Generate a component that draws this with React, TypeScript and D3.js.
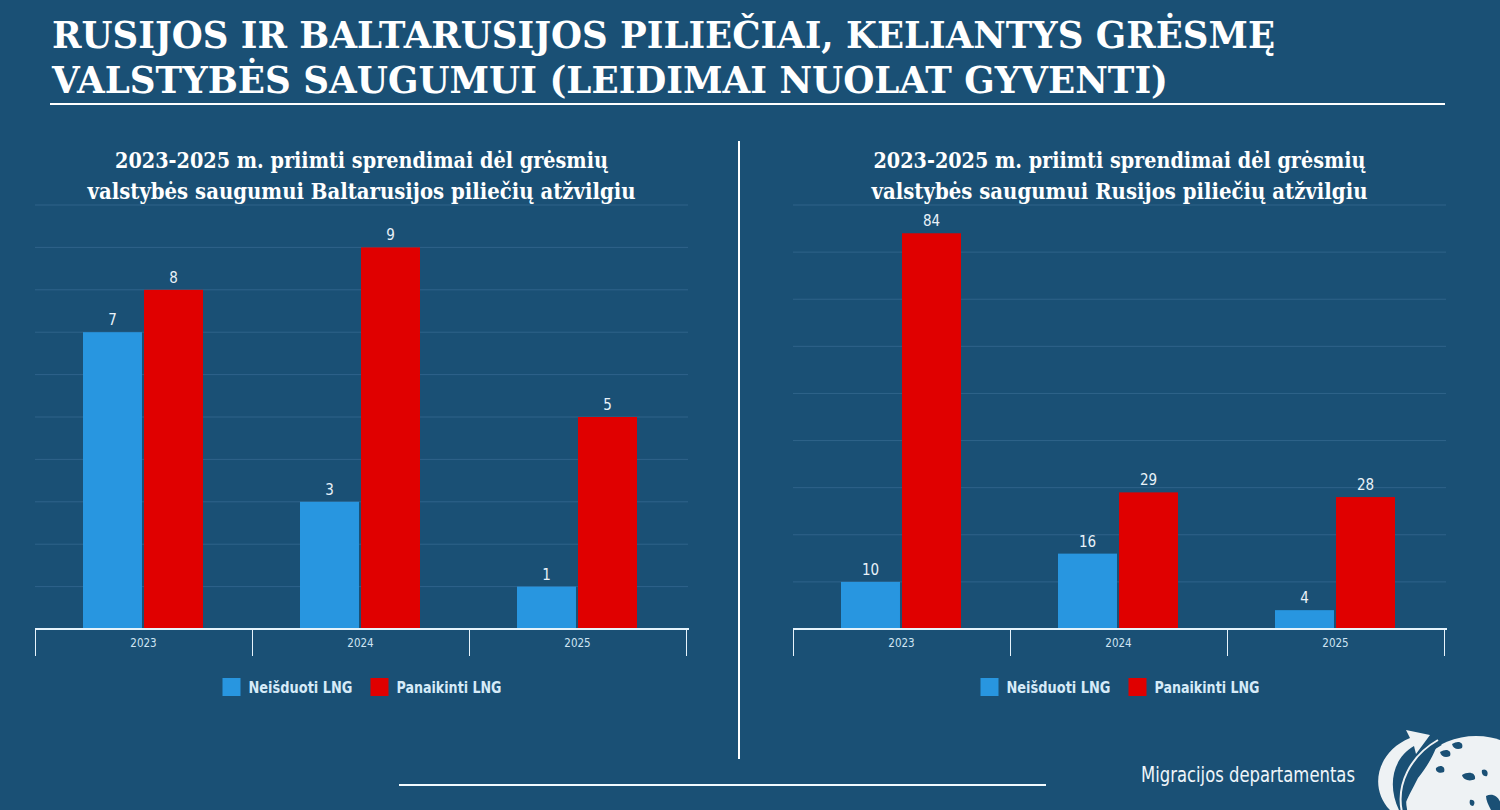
import React from "react";
import * as d3 from "d3";

// Data
const years = ["2023", "2024", "2025"];
const seriesNames = ["Neišduoti LNG", "Panaikinti LNG"];
const belarusNotIssued = [7, 3, 1];
const belarusRevoked = [8, 9, 5];
const russiaNotIssued = [10, 16, 4];
const russiaRevoked = [84, 29, 28];
const belarusTicks = [0, 1, 2, 3, 4, 5, 6, 7, 8, 9, 10];
const russiaTicks = [0, 10, 20, 30, 40, 50, 60, 70, 80, 90];

const titleLines = [
  "RUSIJOS IR BALTARUSIJOS PILIEČIAI, KELIANTYS GRĖSMĘ",
  "VALSTYBĖS SAUGUMUI (LEIDIMAI NUOLAT GYVENTI)",
];
const belarusTitle = [
  "2023-2025 m. priimti sprendimai dėl grėsmių",
  "valstybės saugumui Baltarusijos piliečių atžvilgiu",
];
const russiaTitle = [
  "2023-2025 m. priimti sprendimai dėl grėsmių",
  "valstybės saugumui Rusijos piliečių atžvilgiu",
];
const footerText = "Migracijos departamentas";

const BG = "#1a5075";
const BLUE = "#2896e0";
const RED = "#e00000";
const GRID = "#2f638a";
const AXIS = "#e6f3fb";
const TEXT_LIGHT = "#e9f2f9";
const LOGO = "#eef2f4";
const SLAB = "'DejaVu Serif', 'Liberation Serif', serif";
const NARROW = "'Liberation Sans Narrow', 'DejaVu Sans Condensed', 'Open Sans', sans-serif";

type PanelProps = {
  x0: number;
  x1: number;
  titles: string[];
  titleWidths: number[];
  notIssued: number[];
  revoked: number[];
  ticks: number[];
};

function Panel({ x0, x1, titles, titleWidths, notIssued, revoked, ticks }: PanelProps) {
  const top = 205;
  const base = 629;
  const y = d3.scaleLinear().domain([0, ticks[ticks.length - 1]]).range([base, top]);
  const xBand = d3.scaleBand<string>().domain(years).range([x0, x0 + 651]).padding(0);
  const bw = xBand.bandwidth();
  const inner = d3
    .scaleBand<string>()
    .domain(seriesNames)
    .range([48, bw - 49])
    .paddingInner(0.033)
    .paddingOuter(0);
  const center = (x0 + x1) / 2;
  const values = [notIssued, revoked];
  const colors = [BLUE, RED];
  const legendWidths = [104, 105];

  return (
    <g>
      {titles.map((t, i) => (
        <text
          key={i}
          x={center}
          y={168 + i * 31}
          textAnchor="middle"
          fontFamily={SLAB}
          fontWeight="bold"
          fontSize={23}
          fill="#ffffff"
          textLength={titleWidths[i]}
          lengthAdjust="spacingAndGlyphs"
        >
          {t}
        </text>
      ))}
      {ticks.map((t) => (
        <line key={t} x1={x0} x2={x1} y1={y(t)} y2={y(t)} stroke={GRID} strokeWidth={1} />
      ))}
      {years.map((yr, i) =>
        values.map((vals, s) => {
          const bx = (xBand(yr) as number) + (inner(seriesNames[s]) as number);
          const v = vals[i];
          return (
            <g key={yr + s}>
              <rect x={bx} y={y(v)} width={inner.bandwidth()} height={base - y(v)} fill={colors[s]} />
              <text
                x={bx + inner.bandwidth() / 2}
                y={y(v) - 7}
                textAnchor="middle"
                fontFamily={NARROW}
                fontSize={15}
                fill={TEXT_LIGHT}
              >
                {v}
              </text>
            </g>
          );
        })
      )}
      <line x1={x0} x2={x0 + 654} y1={base} y2={base} stroke={AXIS} strokeWidth={2} />
      {[...years.map((yr) => xBand(yr) as number), x0 + 651].map((tx, i) => (
        <line key={i} x1={tx + 0.5} x2={tx + 0.5} y1={base} y2={656} stroke={AXIS} strokeWidth={1} />
      ))}
      {years.map((yr) => (
        <text
          key={yr}
          x={(xBand(yr) as number) + bw / 2}
          y={647}
          textAnchor="middle"
          fontFamily={NARROW}
          fontSize={11.5}
          fill="#cfe4f3"
        >
          {yr}
        </text>
      ))}
      {seriesNames.map((name, s) => {
        const lx = center - 139 + s * 148;
        return (
          <g key={name}>
            <rect x={lx} y={678} width={18} height={18} fill={colors[s]} />
            <text
              x={lx + 26}
              y={693}
              fontFamily={NARROW}
              fontWeight="bold"
              fontSize={15.5}
              fill="#d6ebf8"
              textLength={legendWidths[s]}
              lengthAdjust="spacingAndGlyphs"
            >
              {name}
            </text>
          </g>
        );
      })}
    </g>
  );
}

function Logo() {
  const cx = 1476;
  const cy = 812;
  const r = 76;
  return (
    <g>
      <defs>
        <clipPath id="globeClip">
          <circle cx={cx} cy={cy} r={r} />
        </clipPath>
      </defs>
      <circle cx={cx} cy={cy} r={r} fill={LOGO} />
      {/* continents cut-outs */}
      <g clipPath="url(#globeClip)" fill={BG}>
        <path d="M1398,770 C1410,752 1425,744 1436,748 C1432,758 1426,768 1418,778 C1412,790 1406,800 1402,812 Z" />
        <path d="M1440,752 C1446,748 1452,750 1450,756 C1446,758 1441,757 1440,752 Z" />
        <path d="M1452,744 C1458,740 1464,742 1462,748 C1458,750 1453,749 1452,744 Z" />
        <path d="M1436,768 C1440,764 1446,766 1444,772 C1440,774 1435,772 1436,768 Z" />
        <path d="M1462,775 C1468,771 1476,772 1475,779 C1470,782 1463,780 1462,775 Z" />
        <path d="M1482,770 C1486,768 1489,772 1487,776 C1484,777 1481,774 1482,770 Z" />
        <path d="M1486,796 C1494,792 1502,798 1502,812 L1492,812 C1489,806 1486,801 1486,796 Z" />
        <path d="M1470,800 C1474,799 1476,803 1473,806 C1470,806 1469,803 1470,800 Z" />
      </g>
      {/* dark gap and thin orbit line */}
      <path d="M1404,812 C1398,785 1412,758 1440,742" fill="none" stroke={BG} strokeWidth={7} />
      <path d="M1402,812 C1396,785 1410,756 1438,740" fill="none" stroke={LOGO} strokeWidth={2} />
      {/* arrow */}
      <path
        d="M1392,812 C1368,790 1376,752 1410,738 L1406,730 L1430,735 L1416,754 L1414,746 C1390,760 1388,790 1400,812 Z"
        fill={LOGO}
      />
    </g>
  );
}

export default function App() {
  return (
    <svg
      width={1500}
      height={810}
      style={{ position: "absolute", left: 0, top: 0, display: "block" }}
    >
      <rect x={0} y={0} width={1500} height={810} fill={BG} />
      {titleLines.map((t, i) => (
        <text
          key={i}
          x={52}
          y={48 + i * 45}
          fontFamily={SLAB}
          fontWeight="bold"
          fontSize={38}
          fill="#ffffff"
          textLength={i === 0 ? 1223 : 1116}
          lengthAdjust="spacingAndGlyphs"
        >
          {t}
        </text>
      ))}
      <line x1={50} x2={1445} y1={104} y2={104} stroke="#ffffff" strokeWidth={2} />
      <line x1={739} x2={739} y1={141} y2={759} stroke="#ffffff" strokeWidth={2} />
      <Panel
        x0={35}
        x1={688}
        titles={belarusTitle}
        titleWidths={[493, 548]}
        notIssued={belarusNotIssued}
        revoked={belarusRevoked}
        ticks={belarusTicks}
      />
      <Panel
        x0={793}
        x1={1446}
        titles={russiaTitle}
        titleWidths={[492, 496]}
        notIssued={russiaNotIssued}
        revoked={russiaRevoked}
        ticks={russiaTicks}
      />
      <line x1={399} x2={1046} y1={785} y2={785} stroke="#f2fbff" strokeWidth={2} />
      <text
        x={1141}
        y={782}
        fontFamily={NARROW}
        fontSize={21}
        fill="#eef5fa"
        textLength={214}
        lengthAdjust="spacingAndGlyphs"
      >
        {footerText}
      </text>
      <Logo />
    </svg>
  );
}
